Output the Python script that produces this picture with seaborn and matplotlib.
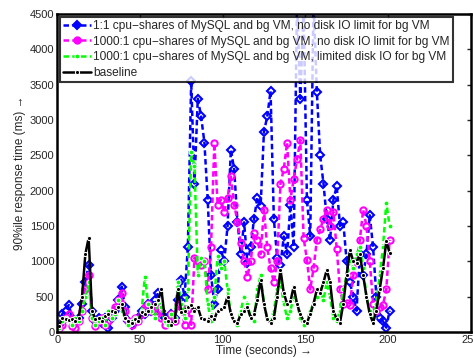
import numpy as np
import pandas as pd
import matplotlib
matplotlib.use("Agg")
import matplotlib.pyplot as plt
import seaborn as sns

# time axis (seconds), one sample every 2 s
time_s = list(range(1, 202, 2))

# 1:1 cpu-shares, no disk IO limit
blue_1to1 = [100, 250, 300, 380, 200, 150, 200, 400, 700, 950,
             300, 150, 200, 120, 200, 50, 200, 300, 450, 640,
             350, 150, 100, 150, 200, 300, 250, 400, 300, 450,
             550, 300, 200, 150, 250, 200, 450, 740, 500, 1200,
             3550, 2100, 3300, 3050, 2680, 1870, 800, 400, 600, 1160,
             1000, 1500, 2580, 2300, 1560, 1100, 1550, 980, 1200, 1600,
             1900, 1780, 2830, 3050, 3410, 1600, 1050, 950, 1350, 1100,
             1800, 1200, 4700, 3300, 4600, 1870, 1350, 4700, 3400, 2500,
             2100, 1600, 1300, 1870, 2060, 1500, 1550, 1000, 700, 500,
             300, 1100, 800, 1100, 1650, 1200, 500, 200, 150, 60,
             300]

# 1000:1 cpu-shares, no disk IO limit
magenta_1000 = [50, 100, 200, 250, 80, 50, 150, 300, 600, 800,
                200, 80, 150, 200, 100, 150, 250, 350, 450, 550,
                300, 150, 100, 200, 150, 250, 350, 400, 300, 350,
                300, 200, 100, 150, 250, 150, 400, 350, 100, 330,
                100, 1050, 1000, 950, 1000, 600, 1200, 2670, 1800, 1870,
                1700, 1900, 2200, 1800, 1560, 1260, 1000, 780, 1000, 1400,
                1300, 1100, 1730, 1200, 900, 700, 1000, 2100, 2300, 2680,
                1870, 2160, 2440, 2720, 1330, 1020, 600, 900, 1300, 1450,
                1600, 1730, 1500, 1700, 1180, 600, 400, 410, 380, 800,
                1000, 1300, 1730, 1500, 1000, 400, 300, 350, 380, 600,
                1300]

# 1000:1 cpu-shares, limited disk IO
green_limited = [50, 150, 200, 150, 100, 200, 150, 300, 500, 700,
                 200, 100, 150, 200, 100, 300, 200, 250, 450, 300,
                 200, 100, 150, 200, 150, 300, 780, 400, 300, 200,
                 450, 350, 150, 100, 250, 200, 700, 400, 200, 600,
                 2540, 2350, 800, 1050, 1000, 400, 150, 500, 1070, 900,
                 1000, 600, 250, 150, 100, 300, 500, 400, 200, 150,
                 600, 800, 400, 200, 150, 300, 600, 700, 400, 200,
                 300, 500, 400, 200, 100, 150, 300, 400, 500, 600,
                 450, 700, 500, 200, 150, 300, 600, 800, 1000, 900,
                 1100, 1200, 900, 500, 300, 200, 400, 800, 1200, 1830,
                 1500]

# baseline
black_base = [80, 200, 180, 170, 180, 150, 200, 500, 1100, 1330,
              300, 180, 200, 150, 220, 250, 300, 280, 350, 400,
              200, 150, 120, 180, 150, 280, 250, 300, 350, 400,
              450, 600, 200, 150, 100, 150, 600, 280, 300, 350,
              380, 300, 350, 200, 180, 150, 220, 180, 300, 320,
              350, 500, 250, 150, 130, 250, 300, 350, 200, 250,
              450, 740, 400, 180, 130, 200, 500, 880, 550, 400,
              430, 640, 400, 250, 150, 130, 250, 400, 600, 550,
              700, 880, 700, 300, 180, 130, 400, 800, 1160, 1000,
              980, 1100, 800, 500, 250, 130, 300, 600, 900, 1280,
              1120]

labels = ["1:1 cpu\u2212shares of MySQL and bg VM, no disk IO limit for bg VM",
          "1000:1 cpu\u2212shares of MySQL and bg VM, no disk IO limit for bg VM",
          "1000:1 cpu\u2212shares of MySQL and bg VM, limited disk IO for bg VM",
          "baseline"]

sns.set_style("white")
plt.rcParams['font.family'] = ['Liberation Sans', 'DejaVu Sans']

df = pd.DataFrame({"t": time_s, "blue": blue_1to1, "magenta": magenta_1000,
                   "green": green_limited, "black": black_base})

fig = plt.figure(figsize=(4.73, 3.58), dpi=100)
ax = fig.add_axes([0.121, 0.073, 0.874, 0.888])

dash = (2.2, 1.3)
sns.lineplot(data=df, x="t", y="blue", ax=ax, color="#0000ff",
             linewidth=1.8, marker="D", markersize=4.5, markerfacecolor="none",
             markeredgecolor="#0000ff", markeredgewidth=1.5, label=labels[0])
sns.lineplot(data=df, x="t", y="magenta", ax=ax, color="#ff00ff",
             linewidth=1.8, marker="o", markersize=4.5, markerfacecolor="none",
             markeredgecolor="#ff00ff", markeredgewidth=1.5, label=labels[1])
sns.lineplot(data=df, x="t", y="green", ax=ax, color="#00ff00",
             linewidth=1.8, marker=".", markersize=7, label=labels[2])
sns.lineplot(data=df, x="t", y="black", ax=ax, color="black",
             linewidth=1.8, marker=".", markersize=6, label=labels[3])
for ln in ax.lines[:3]:
    ln.set_linestyle((0, dash))

ax.set_xlim(0, 250)
ax.set_ylim(0, 4500)
ax.set_xticks(range(0, 251, 50))
ax.set_yticks(range(0, 4501, 500))
ax.tick_params(direction="in", top=True, right=True, labelsize=8, length=3,
               width=1, pad=2)
for s in ax.spines.values():
    s.set_linewidth(1.8)
    s.set_color("black")
ax.set_xlabel("Time (seconds) \u2192", fontsize=8.5, labelpad=0)
ax.set_ylabel("90%ile response time (ms) \u2192", fontsize=8.5, labelpad=3)

leg = ax.legend(loc="upper left", fontsize=8.6, frameon=True, fancybox=False,
                borderpad=0.25, labelspacing=0.3, handlelength=2.3,
                handletextpad=0.2, borderaxespad=0.25)
leg.get_frame().set_edgecolor("black")
leg.get_frame().set_linewidth(1.5)
for h in leg.legend_handles:
    h.set_markerfacecolor(h.get_color())

fig.savefig("out.png", dpi=100)
